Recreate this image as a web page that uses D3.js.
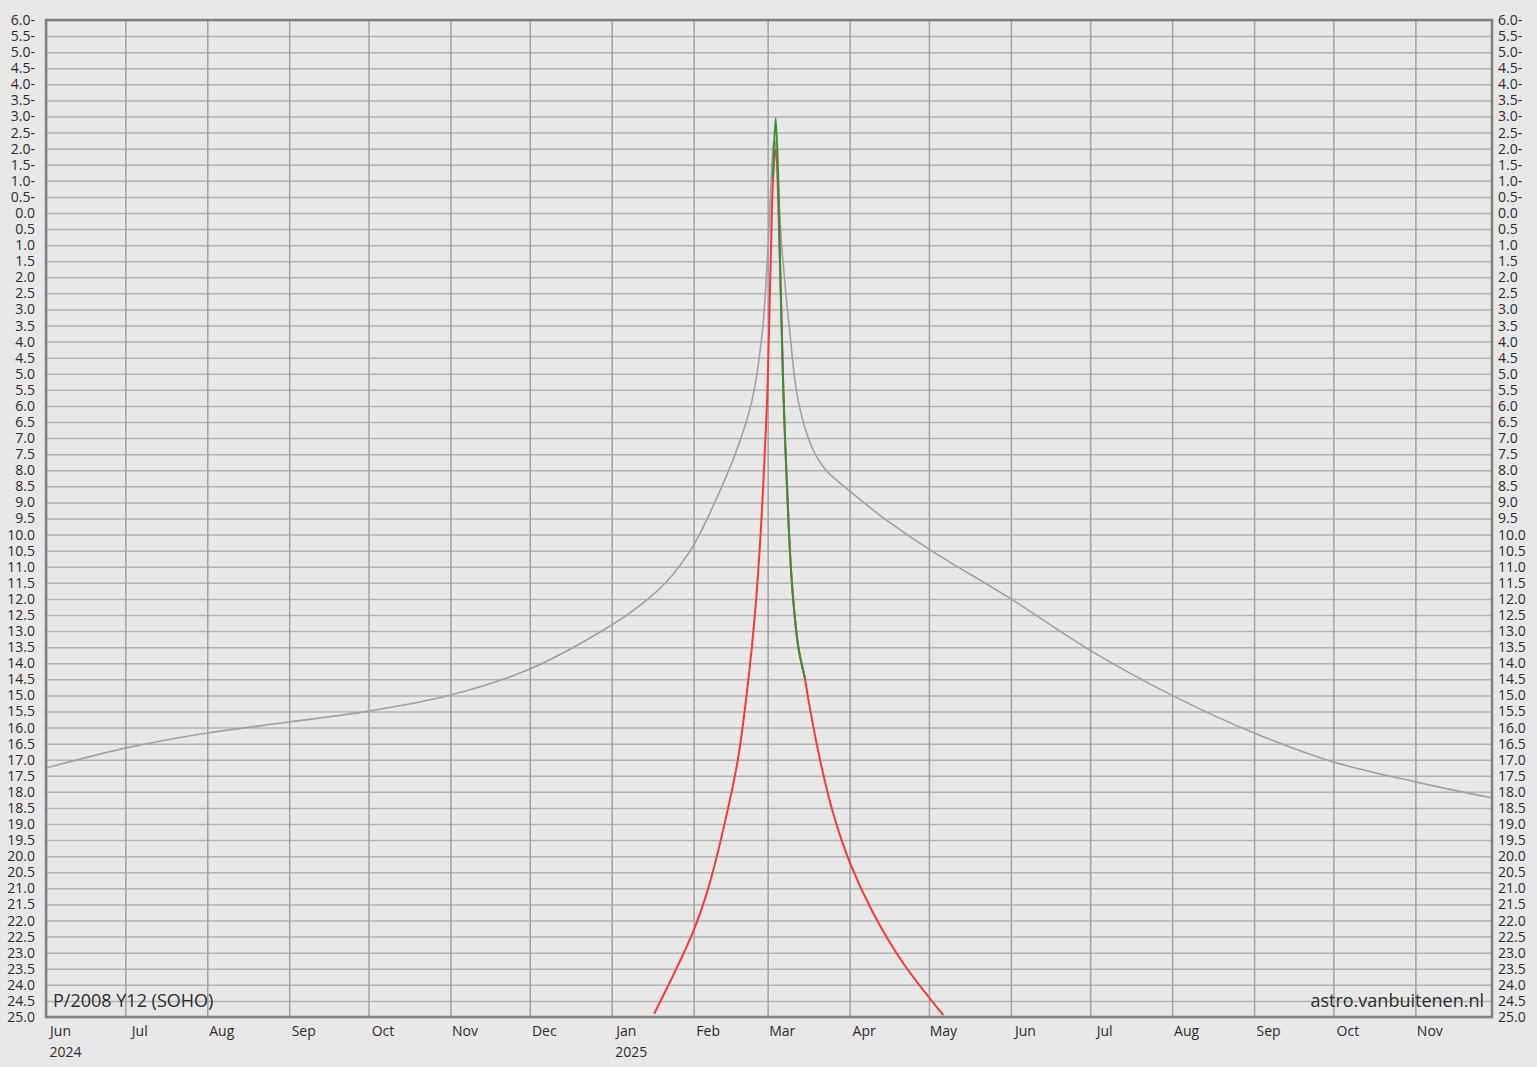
<!DOCTYPE html>
<html>
<head>
<meta charset="utf-8">
<script src="https://cdn.jsdelivr.net/npm/d3@7"></script>
<style>
  body { margin: 0; background: #e8e8e8; }
  text { font-family: "Open Sans", sans-serif; fill: #2b2b2b; }
</style>
</head>
<body>
<script>
// magnitude curves (date "YYYY-MM-DD HH", magnitude)
var grayDates = ["2024-06-01 00","2024-07-01 00","2024-08-01 00","2024-09-01 00","2024-10-01 00","2024-11-01 00",
    "2024-12-01 00","2025-01-01 00","2025-01-11 17","2025-01-21 22","2025-01-31 19","2025-02-11 17","2025-02-18 12",
    "2025-02-23 02","2025-02-26 22","2025-03-01 02","2025-03-03 12","2025-03-06 10","2025-03-09 10","2025-03-12 12",
    "2025-03-17 19","2025-03-23 02","2025-03-31 10","2025-04-12 12","2025-05-01 00","2025-06-01 00","2025-07-01 00",
    "2025-08-01 00","2025-09-01 00","2025-10-01 00","2025-11-01 00","2025-11-30 00"];
var grayMag = [17.26, 16.64, 16.17, 15.83, 15.49, 14.99, 14.18, 12.81, 12.2, 11.45, 10.35, 8.5, 7.1,
    5.82, 3.74, 1.15, -2.3, 1.15, 3.74, 5.82, 7.3, 8.0, 8.6, 9.4, 10.45, 12.0, 13.6,
    15.0, 16.17, 17.07, 17.69, 18.19];

var redDates = ["2025-01-17 02","2025-01-31 07","2025-02-06 12","2025-02-13 12","2025-02-17 22","2025-02-21 17",
    "2025-02-24 05","2025-02-26 10","2025-02-28 00","2025-03-01 00","2025-03-02 02","2025-03-03 02","2025-03-04 00",
    "2025-03-05 17","2025-03-06 22","2025-03-08 05","2025-03-10 02","2025-03-12 14","2025-03-15 02","2025-03-16 10",
    "2025-03-20 19","2025-03-25 19","2025-04-01 05","2025-04-10 00","2025-04-21 07","2025-05-06 10"];
var redMag = [24.9, 22.45, 21.0, 18.7, 16.9, 14.5, 12.45, 9.86, 7.27, 5.3, 1.67, -1.13, -1.96,
    1.67, 5.5, 8.3, 11.41, 13.49, 14.47, 15.14, 17.0, 18.67, 20.22, 21.78, 23.33, 24.94];

var greenDates = ["2025-03-03 00","2025-03-04 00","2025-03-05 00","2025-03-05 17","2025-03-06 22","2025-03-08 05",
    "2025-03-10 02","2025-03-12 14","2025-03-15 02"];
var greenMag = [-1.1, -2.95, -1.1, 1.67, 5.5, 8.3, 11.41, 13.49, 14.47];

var monthLabels = ["Jun","Jul","Aug","Sep","Oct","Nov","Dec","Jan","Feb","Mar","Apr","May",
    "Jun","Jul","Aug","Sep","Oct","Nov"];
var yearLabels = ["2024","","","","","","","2025","","","","","","","","","",""];
var titleText = "P/2008 Y12 (SOHO)";
var creditText = "astro.vanbuitenen.nl";

var parse = d3.timeParse("%Y-%m-%d %H");
var plotLeft = 46, plotRight = 1492, plotTop = 20, plotBottom = 1017;

var x = d3.scaleTime()
    .domain([new Date(2024, 5, 1), new Date(2025, 10, 30)])
    .range([plotLeft, plotRight]);
var y = d3.scaleLinear()
    .domain([-6, 25])
    .range([plotTop, plotBottom]);

var months = d3.timeMonth.range(new Date(2024, 5, 1), new Date(2025, 11, 1));
var yTicks = d3.range(-12, 51).map(function(i) { return i / 2; });
var magFormat = function(v) { return Math.abs(v).toFixed(1) + (v < 0 ? "-" : ""); };

var svg = d3.select("body").append("svg").attr("width", 1537).attr("height", 1067);

// horizontal grid + left labels
var yLeft = svg.append("g").attr("transform", "translate(" + plotLeft + ",0)")
    .call(d3.axisLeft(y).tickValues(yTicks).tickSize(-(plotRight - plotLeft)).tickPadding(11).tickFormat(magFormat));
yLeft.select(".domain").remove();
yLeft.selectAll("line").attr("stroke", "#b2b2b2").attr("stroke-width", 1.5);
yLeft.selectAll("text").style("font-size", "14px").style("fill", "#2b2b2b");

var yRight = svg.append("g").attr("transform", "translate(" + plotRight + ",0)")
    .call(d3.axisRight(y).tickValues(yTicks).tickSize(0).tickPadding(6).tickFormat(magFormat));
yRight.select(".domain").remove();
yRight.selectAll("text").style("font-size", "14px").style("fill", "#2b2b2b");

// vertical grid + month labels
var xAxis = svg.append("g").attr("transform", "translate(0," + plotBottom + ")")
    .call(d3.axisBottom(x).tickValues(months).tickSize(-(plotBottom - plotTop)).tickPadding(0)
        .tickFormat(function(d, i) { return monthLabels[i]; }));
xAxis.select(".domain").remove();
xAxis.selectAll("line").attr("stroke", "#a2a2a2").attr("stroke-width", 1.5);
xAxis.selectAll("text").style("font-size", "14px").style("fill", "#2b2b2b")
    .attr("x", 14).attr("y", 19).attr("dy", 0);

xAxis.selectAll(".tick").append("text")
    .attr("x", 3).attr("y", 40)
    .attr("text-anchor", "start")
    .style("font-size", "14px").style("fill", "#2b2b2b")
    .text(function(d, i) { return yearLabels[i]; });

// curves
svg.append("clipPath").attr("id", "plot").append("rect")
    .attr("x", plotLeft).attr("y", plotTop).attr("width", plotRight - plotLeft).attr("height", plotBottom - plotTop);

var line = d3.line()
    .x(function(d) { return x(d.date); })
    .y(function(d) { return y(d.mag); })
    .curve(d3.curveCatmullRom.alpha(0.5));

function series(dates, mags) {
    return dates.map(function(d, i) { return { date: parse(d), mag: mags[i] }; });
}

var curves = svg.append("g").attr("clip-path", "url(#plot)");
curves.append("path").datum(series(grayDates, grayMag))
    .attr("d", line).attr("fill", "none").attr("stroke", "#a0a0a0").attr("stroke-width", 1.6);
curves.append("path").datum(series(redDates, redMag))
    .attr("d", line).attr("fill", "none").attr("stroke", "#f23a3a").attr("stroke-width", 2);
curves.append("path").datum(series(greenDates, greenMag))
    .attr("d", line).attr("fill", "none").attr("stroke", "#3a8f3a").attr("stroke-width", 2);

// frame
svg.append("rect")
    .attr("x", plotLeft).attr("y", plotTop).attr("width", plotRight - plotLeft).attr("height", plotBottom - plotTop)
    .attr("fill", "none").attr("stroke", "#808080").attr("stroke-width", 2.5);

svg.append("text").attr("x", 53).attr("y", 1007)
    .style("font-size", "18px").text(titleText);
svg.append("text").attr("x", 1484).attr("y", 1007).attr("text-anchor", "end")
    .style("font-size", "18px").text(creditText);
</script>
</body>
</html>
